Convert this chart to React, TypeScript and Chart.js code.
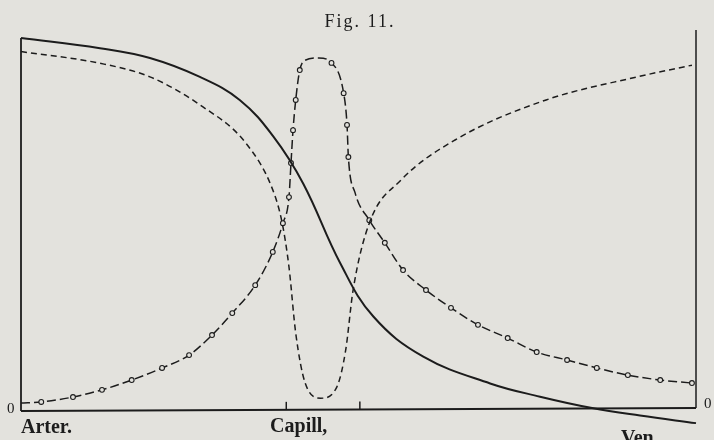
import React, { useEffect, useRef } from "react";
import { Chart, registerables } from "chart.js";

Chart.register(...registerables);

// Positions along the vascular path (0 = arteries, 100 = veins) and curve heights (0 = baseline)
const pressureX = [0, 11.7, 19.1, 26.5, 32.4, 37.4, 41.8, 47.3, 52.2, 59.6, 69.5, 76.9, 84.6, 91.7, 100];
const pressureY = [97.9, 95.2, 92.6, 87.6, 81.5, 71.8, 59.4, 38.3, 24.2, 13.6, 6.5, 3.0, 0, -2.0, -4.0];

const velocityX = [0, 11.7, 19.1, 26.5, 33.3, 37.3, 38.7, 39.7, 40.7, 42.1, 44.4, 46.8, 48.1, 49.2, 51.6, 56.3, 64.3, 77.8, 91.3, 99.4];
const velocityY = [94.3, 91.2, 87.6, 80.2, 70.1, 57.7, 48.9, 37.3, 19.8, 6.6, 2.6, 5.6, 15.3, 31.2, 48.9, 60.3, 70.9, 81.5, 87.6, 90.7];

const sectionX = [0, 3.0, 7.7, 12.0, 16.4, 20.9, 24.9, 28.3, 31.3, 34.7, 37.3, 38.8, 39.7, 40.0, 40.3, 40.7, 41.3, 42.1, 44.1, 46.0, 47.8, 48.3, 48.5, 49.5, 51.6, 53.9, 56.6, 60.0, 63.7, 67.7, 72.1, 76.4, 80.9, 85.3, 89.9, 94.7, 99.4];
const sectionY = [1.3, 1.6, 2.9, 4.8, 7.4, 10.6, 14.0, 19.3, 25.1, 32.5, 41.3, 48.9, 55.8, 64.8, 73.5, 81.5, 89.4, 92.0, 92.6, 91.3, 83.3, 74.9, 66.4, 56.9, 49.7, 43.7, 36.5, 31.2, 26.5, 22.0, 18.5, 14.8, 12.7, 10.6, 8.7, 7.4, 6.6];
const sectionMarked = [0, 1, 1, 1, 1, 1, 1, 1, 1, 1, 1, 1, 1, 1, 1, 1, 1, 0, 0, 1, 1, 1, 1, 0, 1, 1, 1, 1, 1, 1, 1, 1, 1, 1, 1, 1, 1];

const regionLabels = ["Arter.", "Capill,", "Ven"];
const regionLabelX = [0, 36.9, 88.9];
const capillaryTicks = [39.3, 50.2];
const titleText = "Fig. 11.";

const INK = "#1c1c1c";
const PAPER = "#e3e2dd";

function pts(xs: number[], ys: number[]) {
  return xs.map((x, i) => ({ x, y: ys[i] }));
}

const framePlugin = {
  id: "frame",
  beforeDatasetsDraw(chart: any) {
    const { ctx, scales } = chart;
    const xs = scales.x;
    const ys = scales.y;
    ctx.save();
    ctx.strokeStyle = INK;
    ctx.lineWidth = 2;
    // baseline
    ctx.beginPath();
    ctx.moveTo(xs.getPixelForValue(0), ys.getPixelForValue(-0.8));
    ctx.lineTo(xs.getPixelForValue(100), ys.getPixelForValue(0));
    ctx.stroke();
    // left axis
    ctx.lineWidth = 1.8;
    ctx.beginPath();
    ctx.moveTo(xs.getPixelForValue(0), ys.getPixelForValue(-0.8));
    ctx.lineTo(xs.getPixelForValue(0), ys.getPixelForValue(pressureY[0]));
    ctx.stroke();
    // right axis
    ctx.lineWidth = 1.5;
    ctx.beginPath();
    ctx.moveTo(xs.getPixelForValue(100), ys.getPixelForValue(0));
    ctx.lineTo(xs.getPixelForValue(100), ys.getPixelForValue(100));
    ctx.stroke();
    // capillary ticks
    ctx.lineWidth = 1.5;
    capillaryTicks.forEach((t) => {
      const px = xs.getPixelForValue(t);
      const base = ys.getPixelForValue(-0.8 + 0.8 * (t / 100));
      ctx.beginPath();
      ctx.moveTo(px, base);
      ctx.lineTo(px, base - 8);
      ctx.stroke();
    });
    // texts
    ctx.fillStyle = INK;
    ctx.textBaseline = "alphabetic";
    ctx.font = "bold 20px 'Liberation Serif', 'DejaVu Serif', serif";
    ctx.textAlign = "left";
    const labelBase = [433, 432, 444];
    regionLabels.forEach((lab, i) => {
      ctx.fillText(lab, xs.getPixelForValue(regionLabelX[i]), labelBase[i]);
    });
    ctx.font = "15px 'Liberation Serif', 'DejaVu Serif', serif";
    ctx.fillText("0", 7, 413);
    ctx.fillText("0", 704, 408);
    ctx.textAlign = "center";
    ctx.font = "18px 'Liberation Serif', 'DejaVu Serif', serif";
    try { (ctx as any).letterSpacing = "2px"; } catch (e) {}
    ctx.fillText(titleText, 360, 27);
    ctx.restore();
  },
};

export default function App() {
  const ref = useRef<HTMLCanvasElement | null>(null);
  useEffect(() => {
    document.body.style.margin = "0";
    document.body.style.background = PAPER;
    if (!ref.current) return;
    const chart = new Chart(ref.current, {
      type: "line",
      data: {
        datasets: [
          {
            label: "pressure",
            data: pts(pressureX, pressureY),
            borderColor: INK,
            borderWidth: 2,
            pointRadius: 0,
            tension: 0.4,
            fill: false,
          },
          {
            label: "velocity",
            data: pts(velocityX, velocityY),
            borderColor: INK,
            borderWidth: 1.5,
            borderDash: [6, 4],
            pointRadius: 0,
            cubicInterpolationMode: "monotone",
            fill: false,
          },
          {
            label: "section",
            data: pts(sectionX, sectionY),
            borderColor: INK,
            borderWidth: 1.5,
            borderDash: [9, 4],
            pointRadius: sectionMarked.map((m) => (m ? 2.4 : 0)),
            pointBackgroundColor: PAPER,
            pointBorderColor: INK,
            pointBorderWidth: 1.1,
            cubicInterpolationMode: "monotone",
            fill: false,
          },
        ],
      },
      options: {
        responsive: false,
        animation: false,
        clip: false,
        layout: { padding: { left: 21, right: 18, top: 30, bottom: 9.32 } },
        plugins: { legend: { display: false }, tooltip: { enabled: false }, title: { display: false } },
        scales: {
          x: { type: "linear", min: 0, max: 100, display: false },
          y: { type: "linear", min: -6, max: 100, display: false },
        },
      },
      plugins: [framePlugin],
    } as any);
    return () => chart.destroy();
  }, []);
  return (
    <div style={{ width: 714, height: 440, background: PAPER }}>
      <canvas ref={ref} width={714} height={440} style={{ display: "block" }} />
    </div>
  );
}
